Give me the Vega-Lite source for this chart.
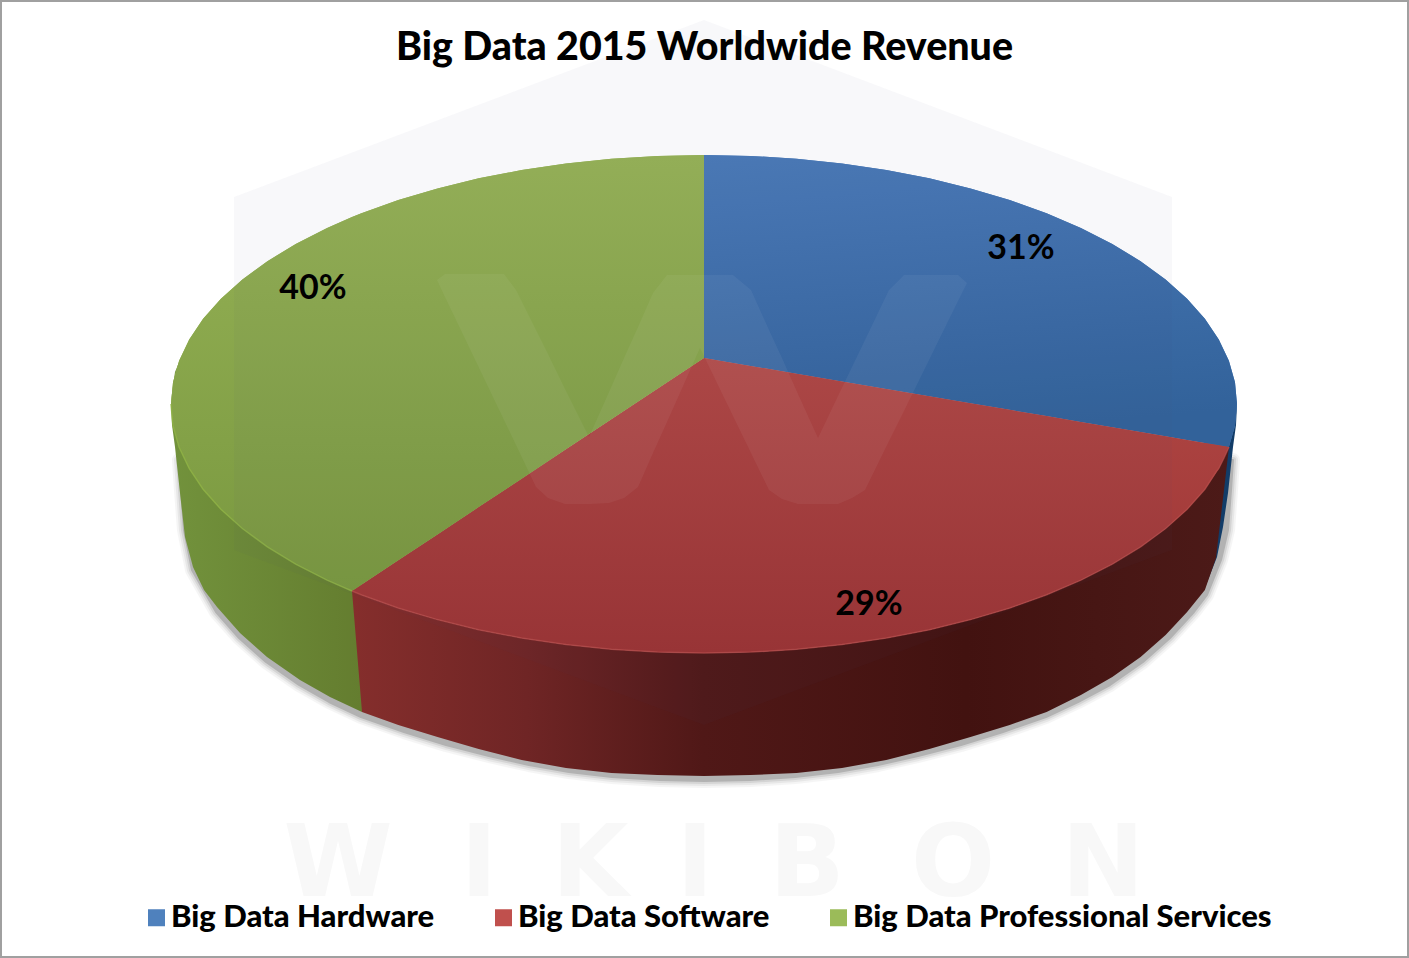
{
  "$schema": "https://vega.github.io/schema/vega-lite/v6.json",
  "width": 1409,
  "height": 958,
  "autosize": {"type": "none"},
  "padding": 0,
  "background": "#ffffff",
  "title": {
    "text": "Big Data 2015 Worldwide Revenue",
    "anchor": "middle",
    "font": "Lato",
    "fontSize": 39.4,
    "fontWeight": 900,
    "color": "#000000",
    "offset": -68
  },
  "view": {"stroke": "#a0a0a0", "strokeWidth": 4, "fill": "#ffffff"},
  "datasets": {
    "top": [
      {"series": "Big Data Hardware", "x": 704, "y": 155, "y2": 358},
      {"series": "Big Data Hardware", "x": 750.5, "y": 155.9, "y2": 365.9},
      {"series": "Big Data Hardware", "x": 796.6, "y": 158.8, "y2": 373.7},
      {"series": "Big Data Hardware", "x": 842, "y": 163.5, "y2": 381.4},
      {"series": "Big Data Hardware", "x": 886.3, "y": 170, "y2": 388.9},
      {"series": "Big Data Hardware", "x": 929.3, "y": 178.3, "y2": 396.2},
      {"series": "Big Data Hardware", "x": 970.5, "y": 188.4, "y2": 403.2},
      {"series": "Big Data Hardware", "x": 1009.7, "y": 200, "y2": 409.8},
      {"series": "Big Data Hardware", "x": 1046.6, "y": 213.3, "y2": 416.1},
      {"series": "Big Data Hardware", "x": 1080.9, "y": 227.9, "y2": 421.9},
      {"series": "Big Data Hardware", "x": 1112.3, "y": 243.9, "y2": 427.2},
      {"series": "Big Data Hardware", "x": 1140.6, "y": 261.2, "y2": 432},
      {"series": "Big Data Hardware", "x": 1165.6, "y": 279.5, "y2": 436.3},
      {"series": "Big Data Hardware", "x": 1187.1, "y": 298.8, "y2": 439.9},
      {"series": "Big Data Hardware", "x": 1204.9, "y": 318.8, "y2": 443},
      {"series": "Big Data Hardware", "x": 1218.8, "y": 339.6, "y2": 445.3},
      {"series": "Big Data Hardware", "x": 1228.9, "y": 360.8, "y2": 447},
      {"series": "Big Data Hardware", "x": 1235, "y": 382.3, "y2": 425.7},
      {"series": "Big Data Hardware", "x": 1237, "y": 404, "y2": 404},
      {"series": "Big Data Software", "x": 352, "y": 591, "y2": 591},
      {"series": "Big Data Software", "x": 361.4, "y": 584.8, "y2": 594.7},
      {"series": "Big Data Software", "x": 398.3, "y": 560.3, "y2": 608},
      {"series": "Big Data Software", "x": 437.5, "y": 534.4, "y2": 619.6},
      {"series": "Big Data Software", "x": 478.7, "y": 507.1, "y2": 629.7},
      {"series": "Big Data Software", "x": 521.7, "y": 478.7, "y2": 638},
      {"series": "Big Data Software", "x": 566, "y": 449.3, "y2": 644.5},
      {"series": "Big Data Software", "x": 611.4, "y": 419.3, "y2": 649.2},
      {"series": "Big Data Software", "x": 657.5, "y": 388.8, "y2": 652.1},
      {"series": "Big Data Software", "x": 704, "y": 358, "y2": 653},
      {"series": "Big Data Software", "x": 750.5, "y": 365.9, "y2": 652.1},
      {"series": "Big Data Software", "x": 796.6, "y": 373.7, "y2": 649.2},
      {"series": "Big Data Software", "x": 842, "y": 381.4, "y2": 644.5},
      {"series": "Big Data Software", "x": 886.3, "y": 388.9, "y2": 638},
      {"series": "Big Data Software", "x": 929.3, "y": 396.2, "y2": 629.7},
      {"series": "Big Data Software", "x": 970.5, "y": 403.2, "y2": 619.6},
      {"series": "Big Data Software", "x": 1009.7, "y": 409.8, "y2": 608},
      {"series": "Big Data Software", "x": 1046.6, "y": 416.1, "y2": 594.7},
      {"series": "Big Data Software", "x": 1080.9, "y": 421.9, "y2": 580.1},
      {"series": "Big Data Software", "x": 1112.3, "y": 427.2, "y2": 564.1},
      {"series": "Big Data Software", "x": 1140.6, "y": 432, "y2": 546.8},
      {"series": "Big Data Software", "x": 1165.6, "y": 436.3, "y2": 528.5},
      {"series": "Big Data Software", "x": 1187.1, "y": 439.9, "y2": 509.2},
      {"series": "Big Data Software", "x": 1204.9, "y": 443, "y2": 489.2},
      {"series": "Big Data Software", "x": 1218.8, "y": 445.3, "y2": 468.4},
      {"series": "Big Data Software", "x": 1229, "y": 447, "y2": 447},
      {"series": "Big Data Professional Services", "x": 171, "y": 404, "y2": 404},
      {"series": "Big Data Professional Services", "x": 173, "y": 382.3, "y2": 425.7},
      {"series": "Big Data Professional Services", "x": 179.1, "y": 360.8, "y2": 447.2},
      {"series": "Big Data Professional Services", "x": 189.2, "y": 339.6, "y2": 468.4},
      {"series": "Big Data Professional Services", "x": 203.1, "y": 318.8, "y2": 489.2},
      {"series": "Big Data Professional Services", "x": 220.9, "y": 298.8, "y2": 509.2},
      {"series": "Big Data Professional Services", "x": 242.4, "y": 279.5, "y2": 528.5},
      {"series": "Big Data Professional Services", "x": 267.4, "y": 261.2, "y2": 546.8},
      {"series": "Big Data Professional Services", "x": 295.7, "y": 243.9, "y2": 564.1},
      {"series": "Big Data Professional Services", "x": 327.1, "y": 227.9, "y2": 580.1},
      {"series": "Big Data Professional Services", "x": 352, "y": 217, "y2": 591},
      {"series": "Big Data Professional Services", "x": 361.4, "y": 213.3, "y2": 584.8},
      {"series": "Big Data Professional Services", "x": 398.3, "y": 200, "y2": 560.3},
      {"series": "Big Data Professional Services", "x": 437.5, "y": 188.4, "y2": 534.4},
      {"series": "Big Data Professional Services", "x": 478.7, "y": 178.3, "y2": 507.1},
      {"series": "Big Data Professional Services", "x": 521.7, "y": 170, "y2": 478.7},
      {"series": "Big Data Professional Services", "x": 566, "y": 163.5, "y2": 449.3},
      {"series": "Big Data Professional Services", "x": 611.4, "y": 158.8, "y2": 419.3},
      {"series": "Big Data Professional Services", "x": 657.5, "y": 155.9, "y2": 388.8},
      {"series": "Big Data Professional Services", "x": 704, "y": 155, "y2": 358}
    ],
    "greenSide": [
      {"x": 171, "y": 404, "y2": 404},
      {"x": 172, "y": 393, "y2": 425},
      {"x": 175, "y": 372, "y2": 447},
      {"x": 180, "y": 360, "y2": 493},
      {"x": 185, "y": 350, "y2": 537},
      {"x": 193, "y": 340, "y2": 567},
      {"x": 204, "y": 330, "y2": 590},
      {"x": 217, "y": 320, "y2": 607},
      {"x": 240, "y": 300, "y2": 633},
      {"x": 267, "y": 300, "y2": 657},
      {"x": 300, "y": 300, "y2": 680},
      {"x": 330, "y": 300, "y2": 697},
      {"x": 362, "y": 300, "y2": 712}
    ],
    "blueSide": [
      {"x": 1204, "y": 400, "y2": 590},
      {"x": 1217, "y": 400, "y2": 557},
      {"x": 1223, "y": 400, "y2": 527},
      {"x": 1228, "y": 400, "y2": 493},
      {"x": 1233, "y": 400, "y2": 447},
      {"x": 1236, "y": 400, "y2": 425},
      {"x": 1237, "y": 404, "y2": 404}
    ],
    "redSide": [
      {"x": 352, "y": 591, "y2": 591},
      {"x": 362, "y": 595, "y2": 712},
      {"x": 398.3, "y": 608, "y2": 725},
      {"x": 437.5, "y": 619.6, "y2": 737},
      {"x": 478.7, "y": 629.7, "y2": 749},
      {"x": 521.7, "y": 638, "y2": 760},
      {"x": 566, "y": 644.5, "y2": 768},
      {"x": 611.4, "y": 649.2, "y2": 773},
      {"x": 657.5, "y": 652.1, "y2": 775},
      {"x": 704, "y": 653, "y2": 776},
      {"x": 750.5, "y": 652.1, "y2": 775},
      {"x": 796.6, "y": 649.2, "y2": 773},
      {"x": 842, "y": 644.5, "y2": 768},
      {"x": 886.3, "y": 638, "y2": 760},
      {"x": 929.3, "y": 629.7, "y2": 749},
      {"x": 970.5, "y": 619.6, "y2": 737},
      {"x": 1009.7, "y": 608, "y2": 725},
      {"x": 1046.6, "y": 594.7, "y2": 712},
      {"x": 1080.9, "y": 580.1, "y2": 695},
      {"x": 1112.3, "y": 564.1, "y2": 677},
      {"x": 1140.6, "y": 546.8, "y2": 657},
      {"x": 1165.6, "y": 528.5, "y2": 635},
      {"x": 1187.1, "y": 509.2, "y2": 612},
      {"x": 1204.9, "y": 489.2, "y2": 590},
      {"x": 1216, "y": 472, "y2": 558},
      {"x": 1218.8, "y": 468.4, "y2": 534},
      {"x": 1224, "y": 458, "y2": 490},
      {"x": 1229, "y": 447, "y2": 447}
    ],
    "shadow": [
      {"x": 179, "y": 460, "y2": 460},
      {"x": 181, "y": 460, "y2": 490},
      {"x": 184, "y": 460, "y2": 530},
      {"x": 192, "y": 460, "y2": 570},
      {"x": 216, "y": 460, "y2": 612},
      {"x": 239, "y": 460, "y2": 638},
      {"x": 266, "y": 460, "y2": 662},
      {"x": 299, "y": 460, "y2": 685},
      {"x": 329, "y": 460, "y2": 702},
      {"x": 361, "y": 460, "y2": 717},
      {"x": 404, "y": 460, "y2": 732},
      {"x": 446, "y": 460, "y2": 745},
      {"x": 489, "y": 460, "y2": 756},
      {"x": 529, "y": 460, "y2": 765},
      {"x": 569, "y": 460, "y2": 772},
      {"x": 612, "y": 460, "y2": 777},
      {"x": 660, "y": 460, "y2": 780},
      {"x": 704, "y": 460, "y2": 781},
      {"x": 750, "y": 460, "y2": 780},
      {"x": 795, "y": 460, "y2": 777},
      {"x": 838, "y": 460, "y2": 772},
      {"x": 878, "y": 460, "y2": 765},
      {"x": 918, "y": 460, "y2": 756},
      {"x": 961, "y": 460, "y2": 745},
      {"x": 1003, "y": 460, "y2": 732},
      {"x": 1046, "y": 460, "y2": 717},
      {"x": 1078, "y": 460, "y2": 702},
      {"x": 1110, "y": 460, "y2": 685},
      {"x": 1143, "y": 460, "y2": 662},
      {"x": 1170, "y": 460, "y2": 638},
      {"x": 1194, "y": 460, "y2": 612},
      {"x": 1207, "y": 460, "y2": 595},
      {"x": 1221, "y": 460, "y2": 560},
      {"x": 1228, "y": 460, "y2": 530},
      {"x": 1231, "y": 460, "y2": 490},
      {"x": 1233, "y": 460, "y2": 460}
    ],
    "hexagon": [
      {"x": 234, "y": 197, "y2": 550},
      {"x": 704, "y": 20, "y2": 725},
      {"x": 1172, "y": 197, "y2": 550}
    ],
    "bigW": [
      {"x": 437, "y": 280, "y2": 280},
      {"x": 445, "y": 274, "y2": 297},
      {"x": 504, "y": 274, "y2": 420},
      {"x": 516, "y": 290, "y2": 445},
      {"x": 536, "y": 330, "y2": 487},
      {"x": 548, "y": 354, "y2": 498},
      {"x": 565, "y": 389, "y2": 504},
      {"x": 589, "y": 437, "y2": 504},
      {"x": 609, "y": 392, "y2": 503},
      {"x": 624, "y": 358, "y2": 498},
      {"x": 638, "y": 327, "y2": 487},
      {"x": 653, "y": 293, "y2": 453},
      {"x": 667, "y": 275, "y2": 422},
      {"x": 700, "y": 275, "y2": 348},
      {"x": 733, "y": 275, "y2": 416},
      {"x": 751, "y": 290, "y2": 453},
      {"x": 769, "y": 330, "y2": 490},
      {"x": 782, "y": 358, "y2": 499},
      {"x": 798, "y": 394, "y2": 504},
      {"x": 818, "y": 438, "y2": 504},
      {"x": 838, "y": 396, "y2": 504},
      {"x": 852, "y": 367, "y2": 498},
      {"x": 865, "y": 340, "y2": 490},
      {"x": 889, "y": 290, "y2": 441},
      {"x": 904, "y": 275, "y2": 411},
      {"x": 958, "y": 275, "y2": 301},
      {"x": 967, "y": 283, "y2": 283}
    ],
    "wordmark": [
      {"letter": "W", "x": 338, "y": 866},
      {"letter": "I", "x": 479, "y": 866},
      {"letter": "K", "x": 590, "y": 866},
      {"letter": "I", "x": 695, "y": 866},
      {"letter": "B", "x": 807, "y": 866},
      {"letter": "O", "x": 953, "y": 866},
      {"letter": "N", "x": 1103, "y": 866}
    ],
    "labels": [
      {"series": "Big Data Hardware", "label": "31%", "x": 1021, "y": 249},
      {"series": "Big Data Software", "label": "29%", "x": 869, "y": 605},
      {"series": "Big Data Professional Services", "label": "40%", "x": 313, "y": 289}
    ]
  },
  "encoding": {
    "x": {"field": "x", "type": "quantitative", "axis": null, "scale": {"domain": [0, 1409], "nice": false, "zero": false}},
    "y": {"field": "y", "type": "quantitative", "axis": null, "scale": {"domain": [958, 0], "nice": false, "zero": false}}
  },
  "layer": [
    {
      "data": {"name": "wordmark"},
      "mark": {"type": "text", "font": "DejaVu Sans", "fontWeight": "bold", "fontSize": 99, "color": "#f8f8f8", "align": "center", "baseline": "middle"},
      "encoding": {"text": {"field": "letter"}}
    },
    {
      "data": {"name": "shadow"},
      "mark": {"type": "area", "orient": "vertical", "color": "#8c8c8c", "opacity": 0.08, "stroke": "#8c8c8c", "strokeWidth": 14, "strokeJoin": "round"},
      "encoding": {"y2": {"field": "y2"}}
    },
    {
      "data": {"name": "shadow"},
      "mark": {"type": "area", "orient": "vertical", "color": "#8c8c8c", "opacity": 0.12, "stroke": "#8c8c8c", "strokeWidth": 10, "strokeJoin": "round"},
      "encoding": {"y2": {"field": "y2"}}
    },
    {
      "data": {"name": "shadow"},
      "mark": {"type": "area", "orient": "vertical", "color": "#8c8c8c", "opacity": 0.2, "stroke": "#8c8c8c", "strokeWidth": 6, "strokeJoin": "round"},
      "encoding": {"y2": {"field": "y2"}}
    },
    {
      "data": {"name": "shadow"},
      "mark": {"type": "area", "orient": "vertical", "color": "#808080", "opacity": 0.4, "stroke": "#808080", "strokeWidth": 2, "strokeJoin": "round"},
      "encoding": {"y2": {"field": "y2"}}
    },
    {
      "data": {"name": "blueSide"},
      "mark": {"type": "area", "orient": "vertical", "color": "#123c68"},
      "encoding": {"y2": {"field": "y2"}}
    },
    {
      "data": {"name": "greenSide"},
      "mark": {
        "type": "area",
        "orient": "vertical",
        "color": {"gradient": "linear", "x1": 0, "y1": 0, "x2": 1, "y2": 0, "stops": [
          {"offset": 0, "color": "#72923c"},
          {"offset": 1, "color": "#647d2f"}
        ]}
      },
      "encoding": {"y2": {"field": "y2"}}
    },
    {
      "data": {"name": "redSide"},
      "mark": {
        "type": "area",
        "orient": "vertical",
        "color": {"gradient": "linear", "x1": 0, "y1": 0, "x2": 1, "y2": 0, "stops": [
          {"offset": 0, "color": "#852e2c"},
          {"offset": 0.2, "color": "#6f2525"},
          {"offset": 0.4, "color": "#501817"},
          {"offset": 0.7, "color": "#421210"},
          {"offset": 1, "color": "#4c1a18"}
        ]}
      },
      "encoding": {"y2": {"field": "y2"}}
    },
    {
      "data": {"name": "top"},
      "mark": {"type": "area", "orient": "vertical"},
      "encoding": {
        "y2": {"field": "y2"},
        "color": {
          "field": "series",
          "type": "nominal",
          "scale": {
            "domain": ["Big Data Hardware", "Big Data Software", "Big Data Professional Services"],
            "range": ["#4f81bd", "#c0504d", "#9bbb59"]
          },
          "legend": {
            "orient": "none",
            "legendX": 141,
            "legendY": 902,
            "direction": "horizontal",
            "columns": 3,
            "title": null,
            "padding": 0,
            "symbolType": "square",
            "symbolSize": 289,
            "symbolStrokeWidth": 0,
            "labelFont": "Lato",
            "labelFontSize": 31,
            "labelFontWeight": 900,
            "labelColor": "#000000",
            "labelOffset": -1,
            "labelLimit": 600,
            "columnPadding": 53
          }
        }
      }
    },
    {
      "data": {"name": "top"},
      "transform": [{"filter": "datum.series === 'Big Data Hardware'"}],
      "mark": {
        "type": "area",
        "orient": "vertical",
        "color": {"gradient": "linear", "x1": 0, "y1": 0, "x2": 0.15, "y2": 1, "stops": [
          {"offset": 0, "color": "#4a7ab8"},
          {"offset": 1, "color": "#32629a"}
        ]}
      },
      "encoding": {"y2": {"field": "y2"}}
    },
    {
      "data": {"name": "top"},
      "transform": [{"filter": "datum.series === 'Big Data Software'"}],
      "mark": {
        "type": "area",
        "orient": "vertical",
        "color": {"gradient": "linear", "x1": 0, "y1": 0, "x2": 0, "y2": 1, "stops": [
          {"offset": 0, "color": "#b04744"},
          {"offset": 1, "color": "#9c3434"}
        ]}
      },
      "encoding": {"y2": {"field": "y2"}}
    },
    {
      "data": {"name": "top"},
      "transform": [{"filter": "datum.series === 'Big Data Professional Services'"}],
      "mark": {
        "type": "area",
        "orient": "vertical",
        "color": {"gradient": "linear", "x1": 0, "y1": 0, "x2": 0, "y2": 1, "stops": [
          {"offset": 0, "color": "#96b256"},
          {"offset": 1, "color": "#79983f"}
        ]}
      },
      "encoding": {"y2": {"field": "y2"}}
    },
    {
      "data": {"name": "redSide"},
      "mark": {"type": "line", "color": "#b84c48", "strokeWidth": 1.5, "opacity": 0.7}
    },
    {
      "data": {"name": "top"},
      "transform": [{"filter": "datum.series === 'Big Data Professional Services' && datum.x <= 352"}],
      "mark": {"type": "line", "color": "#8fb145", "strokeWidth": 1.5, "opacity": 0.8},
      "encoding": {"y": {"field": "y2", "type": "quantitative"}}
    },
    {
      "data": {"name": "hexagon"},
      "mark": {"type": "area", "orient": "vertical", "color": "#555577", "opacity": 0.04},
      "encoding": {"y2": {"field": "y2"}}
    },
    {
      "data": {"name": "bigW"},
      "mark": {"type": "area", "orient": "vertical", "color": "#ffffff", "opacity": 0.05},
      "encoding": {"y2": {"field": "y2"}}
    },
    {
      "data": {"name": "labels"},
      "mark": {"type": "text", "font": "Lato", "fontWeight": "bold", "fontSize": 34, "color": "#000000", "align": "center", "baseline": "middle"},
      "encoding": {"text": {"field": "label"}}
    }
  ]
}
